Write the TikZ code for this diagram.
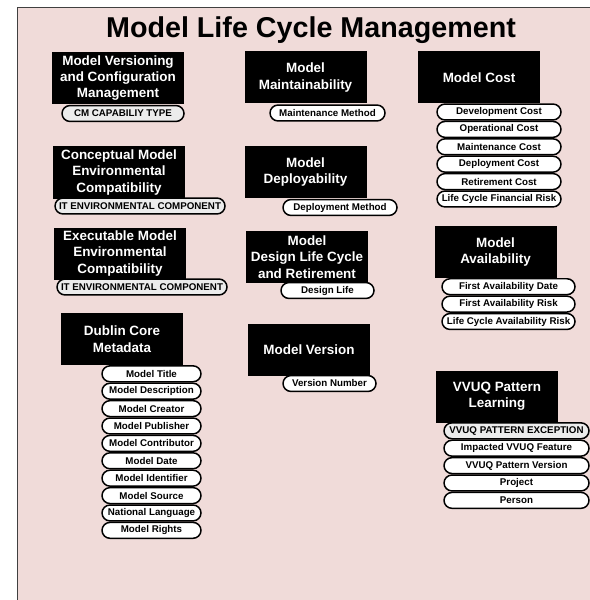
\documentclass[tikz,border=0pt]{standalone}
\usepackage{fontspec}
\setmainfont{Liberation Sans}
\usepackage{tikz}
\usetikzlibrary{positioning}
\usepackage{xcolor}
\definecolor{bgpink}{RGB}{240,219,217}
\definecolor{keygray}{RGB}{236,236,236}

\begin{document}
\begin{tikzpicture}[
  x=1bp, y=-1bp,
  entity/.style={fill=black, text=white, align=center, inner sep=1pt, minimum width=122bp, minimum height=52bp, font=\bfseries\fontsize{13.5}{16.5}\selectfont},
  wideentity/.style={entity, minimum width=132bp},
  attr/.style={draw, line width=1.5pt, fill=white, rounded corners=8bp, inner sep=0pt, minimum height=15.9bp, font=\bfseries\fontsize{9.8}{11}\selectfont},
  keyattr/.style={attr, fill=keygray}
]
\useasboundingbox (0,0) rectangle (590,600);
\fill[bgpink] (17,8) rectangle (600,610);
\draw[black!75, line width=1pt] (17,610) -- (17,8) -- (600,8);

\node[anchor=base, font=\bfseries\fontsize{28.8}{34}\selectfont] (title) at (311,38) {Model Life Cycle Management};

% left column
\node[wideentity] (versioning) at (118,78) {Model Versioning\\and Configuration\\Management};
\node[keyattr, minimum width=122bp] (cmtype) at (123,113.5) {CM CAPABILIY TYPE};
\node[wideentity] (concept) at (119,172.5) {Conceptual Model\\Environmental\\Compatibility};
\node[keyattr, minimum width=170bp] (itcompa) at (140,206) {IT ENVIRONMENTAL COMPONENT};
\node[wideentity] (exec) at (120,253.5) {Executable Model\\Environmental\\Compatibility};
\node[keyattr, minimum width=170bp] (itcompb) at (142,287) {IT ENVIRONMENTAL COMPONENT};
\node[entity] (dublin) at (122,339) {Dublin Core\\Metadata};
\node[attr, minimum width=99bp] (title1) at (151.5,373.8) {Model Title};
\node[attr, minimum width=99bp, below=0pt of title1] (descr) {Model Description};
\node[attr, minimum width=99bp, below=0pt of descr] (creator) {Model Creator};
\node[attr, minimum width=99bp, below=0pt of creator] (publisher) {Model Publisher};
\node[attr, minimum width=99bp, below=0pt of publisher] (contrib) {Model Contributor};
\node[attr, minimum width=99bp, below=0pt of contrib] (date) {Model Date};
\node[attr, minimum width=99bp, below=0pt of date] (ident) {Model Identifier};
\node[attr, minimum width=99bp, below=0pt of ident] (source) {Model Source};
\node[attr, minimum width=99bp, below=0pt of source] (lang) {National Language};
\node[attr, minimum width=99bp, below=0pt of lang] (rights) {Model Rights};

% middle column
\node[entity] (maint) at (305.5,77.5) {Model\\Maintainability};
\node[attr, minimum width=115bp] (maintmeth) at (327.5,113) {Maintenance Method};
\node[entity] (deploy) at (305.5,172) {Model\\Deployability};
\node[attr, minimum width=114bp] (deploymeth) at (340,207.5) {Deployment Method};
\node[entity] (design) at (307,257) {Model\\Design Life Cycle\\and Retirement};
\node[attr, minimum width=93bp] (designlife) at (327.5,290.5) {Design Life};
\node[entity] (version) at (309,350) {Model Version};
\node[attr, minimum width=93bp] (vernum) at (329.5,383.5) {Version Number};

% right column
\node[entity] (cost) at (479,77.5) {Model Cost};
\node[attr, minimum width=124bp] (devcost) at (499,112) {Development Cost};
\node[attr, minimum width=124bp, below=0pt of devcost] (opcost) {Operational Cost};
\node[attr, minimum width=124bp, below=0pt of opcost] (maintcost) {Maintenance Cost};
\node[attr, minimum width=124bp, below=0pt of maintcost] (depcost) {Deployment Cost};
\node[attr, minimum width=124bp, below=0pt of depcost] (retcost) {Retirement Cost};
\node[attr, minimum width=124bp, below=0pt of retcost] (finrisk) {Life Cycle Financial Risk};
\node[entity] (avail) at (495.5,252) {Model\\Availability};
\node[attr, minimum width=133bp] (firstdate) at (508.5,286.7) {First Availability Date};
\node[attr, minimum width=133bp, below=0pt of firstdate] (firstrisk) {First Availability Risk};
\node[attr, minimum width=133bp, below=0pt of firstrisk] (lcrisk) {Life Cycle Availability Risk};
\node[entity] (vvuq) at (497,396.5) {VVUQ Pattern\\Learning};
\node[keyattr, minimum width=145bp] (vvuqexc) at (516.5,430.8) {VVUQ PATTERN EXCEPTION};
\node[attr, minimum width=145bp, below=0pt of vvuqexc] (feature) {Impacted VVUQ Feature};
\node[attr, minimum width=145bp, below=0pt of feature] (patver) {VVUQ Pattern Version};
\node[attr, minimum width=145bp, below=0pt of patver] (project) {Project};
\node[attr, minimum width=145bp, below=0pt of project] (person) {Person};
\end{tikzpicture}
\end{document}
